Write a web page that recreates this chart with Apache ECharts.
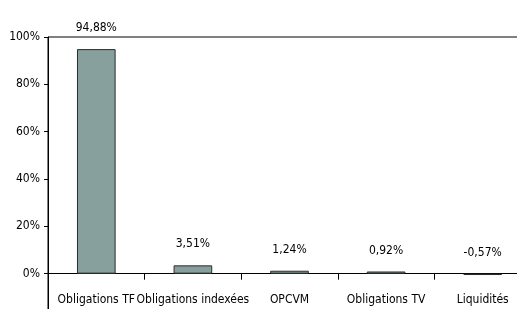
<!DOCTYPE html>
<html>
<head>
<meta charset="utf-8">
<script src="https://cdn.jsdelivr.net/npm/echarts@6/dist/echarts.min.js"></script>
<style>
  html, body { margin: 0; padding: 0; background: #fff; }
  #chart { width: 517px; height: 309px; }
</style>
</head>
<body>
<div id="chart"></div>
<script>
// data
const categories = ['Obligations TF', 'Obligations indexées', 'OPCVM', 'Obligations TV', 'Liquidités'];
const weights = [94.88, 3.51, 1.24, 0.92, -0.57];
const labelTexts = ['94,88%', '3,51%', '1,24%', '0,92%', '-0,57%'];

const FONT = '"DejaVu Sans Condensed", "Liberation Sans Narrow", "Liberation Sans", sans-serif';
const chart = echarts.init(document.getElementById('chart'));

// plot runs past the bottom/right of the picture (it is cropped in the reference)
const TOP = 37, BOTTOM = -12, YMIN = -20, YMAX = 100;
const plotH = 309 - BOTTOM - TOP;
const zeroShift = plotH * (0 - YMIN) / (YMAX - YMIN);

chart.setOption({
    animation: false,
    grid: {
        left: 48, top: TOP, right: -14, bottom: BOTTOM,
        outerBoundsMode: 'none', containLabel: false,
        show: true, borderColor: '#000', borderWidth: 1, backgroundColor: 'transparent'
    },
    xAxis: {
        type: 'category',
        data: categories,
        offset: -zeroShift,
        axisLine: { onZero: false, lineStyle: { color: '#000', width: 1 } },
        axisTick: { show: true, length: 6, lineStyle: { color: '#000' } },
        axisLabel: { margin: 20, color: '#000', fontSize: 12, fontFamily: FONT, interval: 0 }
    },
    yAxis: {
        type: 'value',
        min: YMIN, max: YMAX, interval: 20,
        axisLine: { show: true, lineStyle: { color: '#000', width: 1 } },
        axisTick: { show: true, length: 4, lineStyle: { color: '#000' } },
        splitLine: { show: false },
        axisLabel: {
            color: '#000', fontSize: 12, fontFamily: FONT, margin: 8,
            formatter: v => (v < 0 ? '' : v + '%')
        }
    },
    series: [{
        type: 'bar',
        data: weights,
        barWidth: '40%',
        itemStyle: { color: '#87A09D', borderColor: '#2b2b2b', borderWidth: 1 },
        label: {
            show: true, position: 'top', distance: 15,
            color: '#000', fontSize: 12, fontFamily: FONT,
            formatter: p => labelTexts[p.dataIndex]
        }
    }]
});
</script>
</body>
</html>
